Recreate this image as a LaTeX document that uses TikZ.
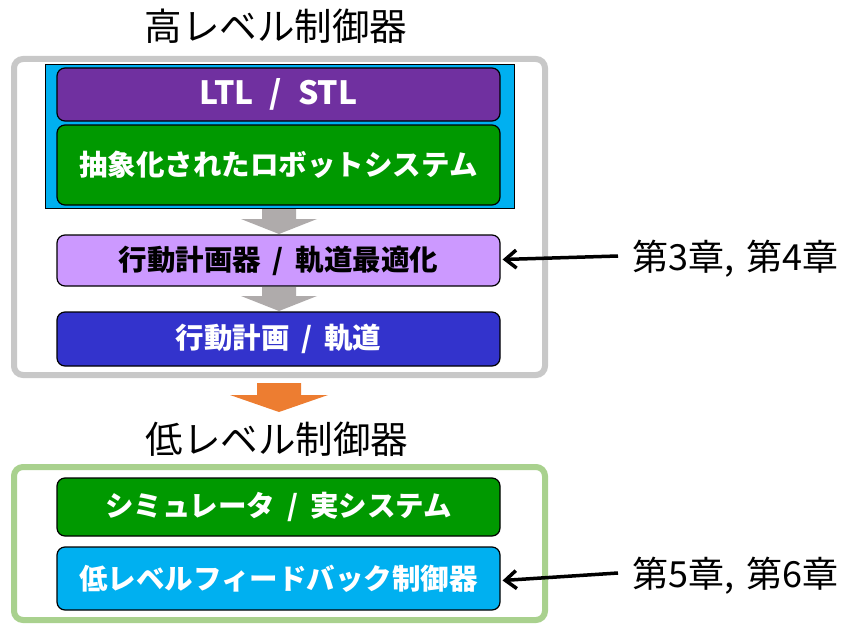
\documentclass[tikz,border=0pt]{standalone}
\usepackage{fontspec}
\setmainfont{Noto Sans CJK JP}
\usetikzlibrary{arrows.meta}
\definecolor{cpurple}{HTML}{7030A0}
\definecolor{cgreen}{HTML}{009900}
\definecolor{clav}{HTML}{CC99FF}
\definecolor{cblue}{HTML}{3333CC}
\definecolor{ccyan}{HTML}{00B0F0}
\definecolor{cframe}{HTML}{C8C8C8}
\definecolor{cgframe}{HTML}{A9D18E}
\definecolor{carrow}{HTML}{AFABAB}
\definecolor{corange}{HTML}{ED7D31}
\newcommand{\myslash}{\hspace{0.42em}/\hspace{0.42em}}
\begin{document}
\begin{tikzpicture}[x=1pt,y=-1pt,
  box/.style={draw=black, line width=1.2pt, rounded corners=8pt, minimum width=443pt, inner sep=0pt, font=\bfseries\fontsize{28.5}{32}\selectfont},
  frame/.style={line width=6pt, rounded corners=9pt, fill=white},
  title/.style={font=\fontsize{37.5}{42}\selectfont},
  chap/.style={font=\fontsize{36}{40}\selectfont, anchor=west, inner sep=0pt},
  chaparrow/.style={draw=black, line width=3.5pt, -{Straight Barb[length=11pt,width=18pt,line width=3.5pt]}},
  blockarrow/.style={fill=carrow, draw=none}]
\useasboundingbox (0,0) rectangle (842,623);
% titles
\node[title] (hightitle) at (276,26) {高レベル制御器};
\node[title] (lowtitle) at (277,439) {低レベル制御器};
% frames
\draw[frame, draw=cframe] (14,59) rectangle (545,375);
\draw[frame, draw=cgframe] (14,467) rectangle (545,620);
% cyan container
\draw[fill=ccyan, draw=black, line width=1pt] (45,65) rectangle (514,208);
% boxes
\node[box, fill=cpurple, text=white, minimum height=53pt, font=\bfseries\fontsize{32}{36}\selectfont] (ltl) at (278.5,94.5) {LTL\hspace{0.5em}/\hspace{0.5em}STL};
\node[box, fill=cgreen, text=white, minimum height=80pt] (abs) at (278.5,165) {抽象化されたロボットシステム};
\node[box, fill=clav, text=black, minimum height=51pt] (planner) at (278.5,260.5) {行動計画器\myslash 軌道最適化};
\node[box, fill=cblue, text=white, minimum height=54pt] (plan) at (278.5,339) {行動計画\myslash 軌道};
\node[box, fill=cgreen, text=white, minimum height=58pt] (sim) at (278.5,507) {シミュレータ\myslash 実システム};
\node[box, fill=ccyan, text=white, minimum height=63pt] (fb) at (278.5,578.5) {低レベルフィードバック制御器};
% block arrows
\fill[blockarrow] (262,209) -- (296,209) -- (296,219) -- (317,219) -- (279,234) -- (241,219) -- (262,219) -- cycle;
\fill[blockarrow] (262,287) -- (296,287) -- (296,296) -- (317,296) -- (279,311) -- (241,296) -- (262,296) -- cycle;
\fill[corange] (257,383) -- (301,383) -- (301,395) -- (328,395) -- (279,412) -- (230,395) -- (257,395) -- cycle;
% chapter labels
\node[chap] (c34) at (632,259) {第3章,\hspace{0.35em}第4章};
\node[chap] (c56) at (632,576) {第5章,\hspace{0.35em}第6章};
\coordinate (c34s) at ([xshift=-14pt,yshift=3pt]c34.west);
\coordinate (c56s) at ([xshift=-14pt,yshift=3pt]c56.west);
\draw[chaparrow] (c34s) -- ([xshift=2pt,yshift=1pt]planner.east);
\draw[chaparrow] (c56s) -- ([xshift=2pt,yshift=-2pt]fb.east);
\end{tikzpicture}
\end{document}
